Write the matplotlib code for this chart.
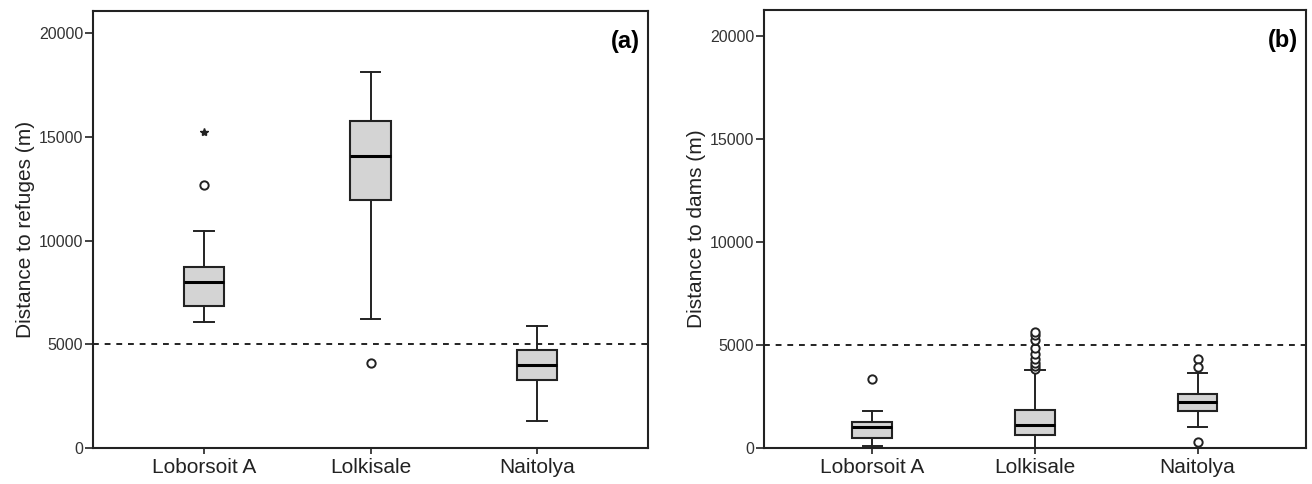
import matplotlib
matplotlib.use('Agg')
import matplotlib.pyplot as plt

plt.rcParams['font.family'] = ['Liberation Sans', 'DejaVu Sans']

sites = ["Loborsoit A", "Lolkisale", "Naitolya"]

# panel (a): distance to refuges (m)
ref_whislo = [6100, 6200, 1300]
ref_q1 = [6850, 11950, 3280]
ref_med = [8000, 14080, 4000]
ref_q3 = [8740, 15760, 4730]
ref_whishi = [10480, 18150, 5860]
ref_circles = [[12680], [4110], []]
ref_stars = [[15250], [], []]

# panel (b): distance to dams (m)
dam_whislo = [80, 20, 1000]
dam_q1 = [500, 620, 1800]
dam_med = [1020, 1100, 2240]
dam_q3 = [1250, 1860, 2600]
dam_whishi = [1800, 3780, 3650]
dam_circles = [[3360], [3810, 3990, 4140, 4300, 4570, 4860, 5220, 5460, 5630], [4300, 3940, 280]]
dam_stars = [[], [], []]

threshold = 5000
ink = '#222222'


def make_stats(whislo, q1, med, q3, whishi):
    return [dict(whislo=a, q1=b, med=c, q3=d, whishi=e, fliers=[], label=s)
            for a, b, c, d, e, s in zip(whislo, q1, med, q3, whishi, sites)]


def draw_panel(ax, stats, circles, stars, ylabel, tag, ytop):
    pos = [1, 2, 3]
    ax.bxp(stats, positions=pos, widths=0.245, patch_artist=True, showfliers=False,
           boxprops=dict(facecolor='#d4d4d4', edgecolor=ink, linewidth=1.5),
           medianprops=dict(color='black', linewidth=2.2),
           whiskerprops=dict(color=ink, linewidth=1.4),
           capprops=dict(color=ink, linewidth=1.4),
           capwidths=0.12)
    for p, vals in zip(pos, circles):
        ax.plot([p] * len(vals), vals, 'o', ms=6, mfc='white', mec=ink, mew=1.4, ls='none')
    for p, vals in zip(pos, stars):
        ax.plot([p] * len(vals), vals, '*', ms=6, color=ink, ls='none')
    ax.axhline(threshold, color=ink, lw=1.4, ls=(0, (3, 3)))
    ax.set_xlim(0.333, 3.667)
    ax.set_ylim(0, ytop)
    ax.set_yticks([0, 5000, 10000, 15000, 20000])
    ax.set_xticks(pos)
    ax.set_xticklabels(sites, fontsize=15, color=ink)
    ax.tick_params(axis='y', length=6, width=1.2, pad=1, labelsize=11.5, labelcolor='#333333', color=ink)
    ax.tick_params(axis='x', length=4, width=1.2, pad=3, color=ink)
    for sp in ax.spines.values():
        sp.set_linewidth(1.5)
        sp.set_color(ink)
    ax.set_ylabel(ylabel, fontsize=15, color=ink, labelpad=3)
    ax.text(0.985, 0.93, tag, transform=ax.transAxes, ha='right', va='center',
            fontsize=17, fontweight='bold', color='black')


fig = plt.figure(figsize=(13.12, 4.84), dpi=100)
ax1 = fig.add_axes([0.0709, 0.0744, 0.423, 0.903])
ax2 = fig.add_axes([0.5823, 0.0744, 0.4131, 0.905])

draw_panel(ax1, make_stats(ref_whislo, ref_q1, ref_med, ref_q3, ref_whishi),
           ref_circles, ref_stars, "Distance to refuges (m)", "(a)", 21080)
draw_panel(ax2, make_stats(dam_whislo, dam_q1, dam_med, dam_q3, dam_whishi),
           dam_circles, dam_stars, "Distance to dams (m)", "(b)", 21250)

fig.savefig("out.png", dpi=100)
plt.close(fig)
